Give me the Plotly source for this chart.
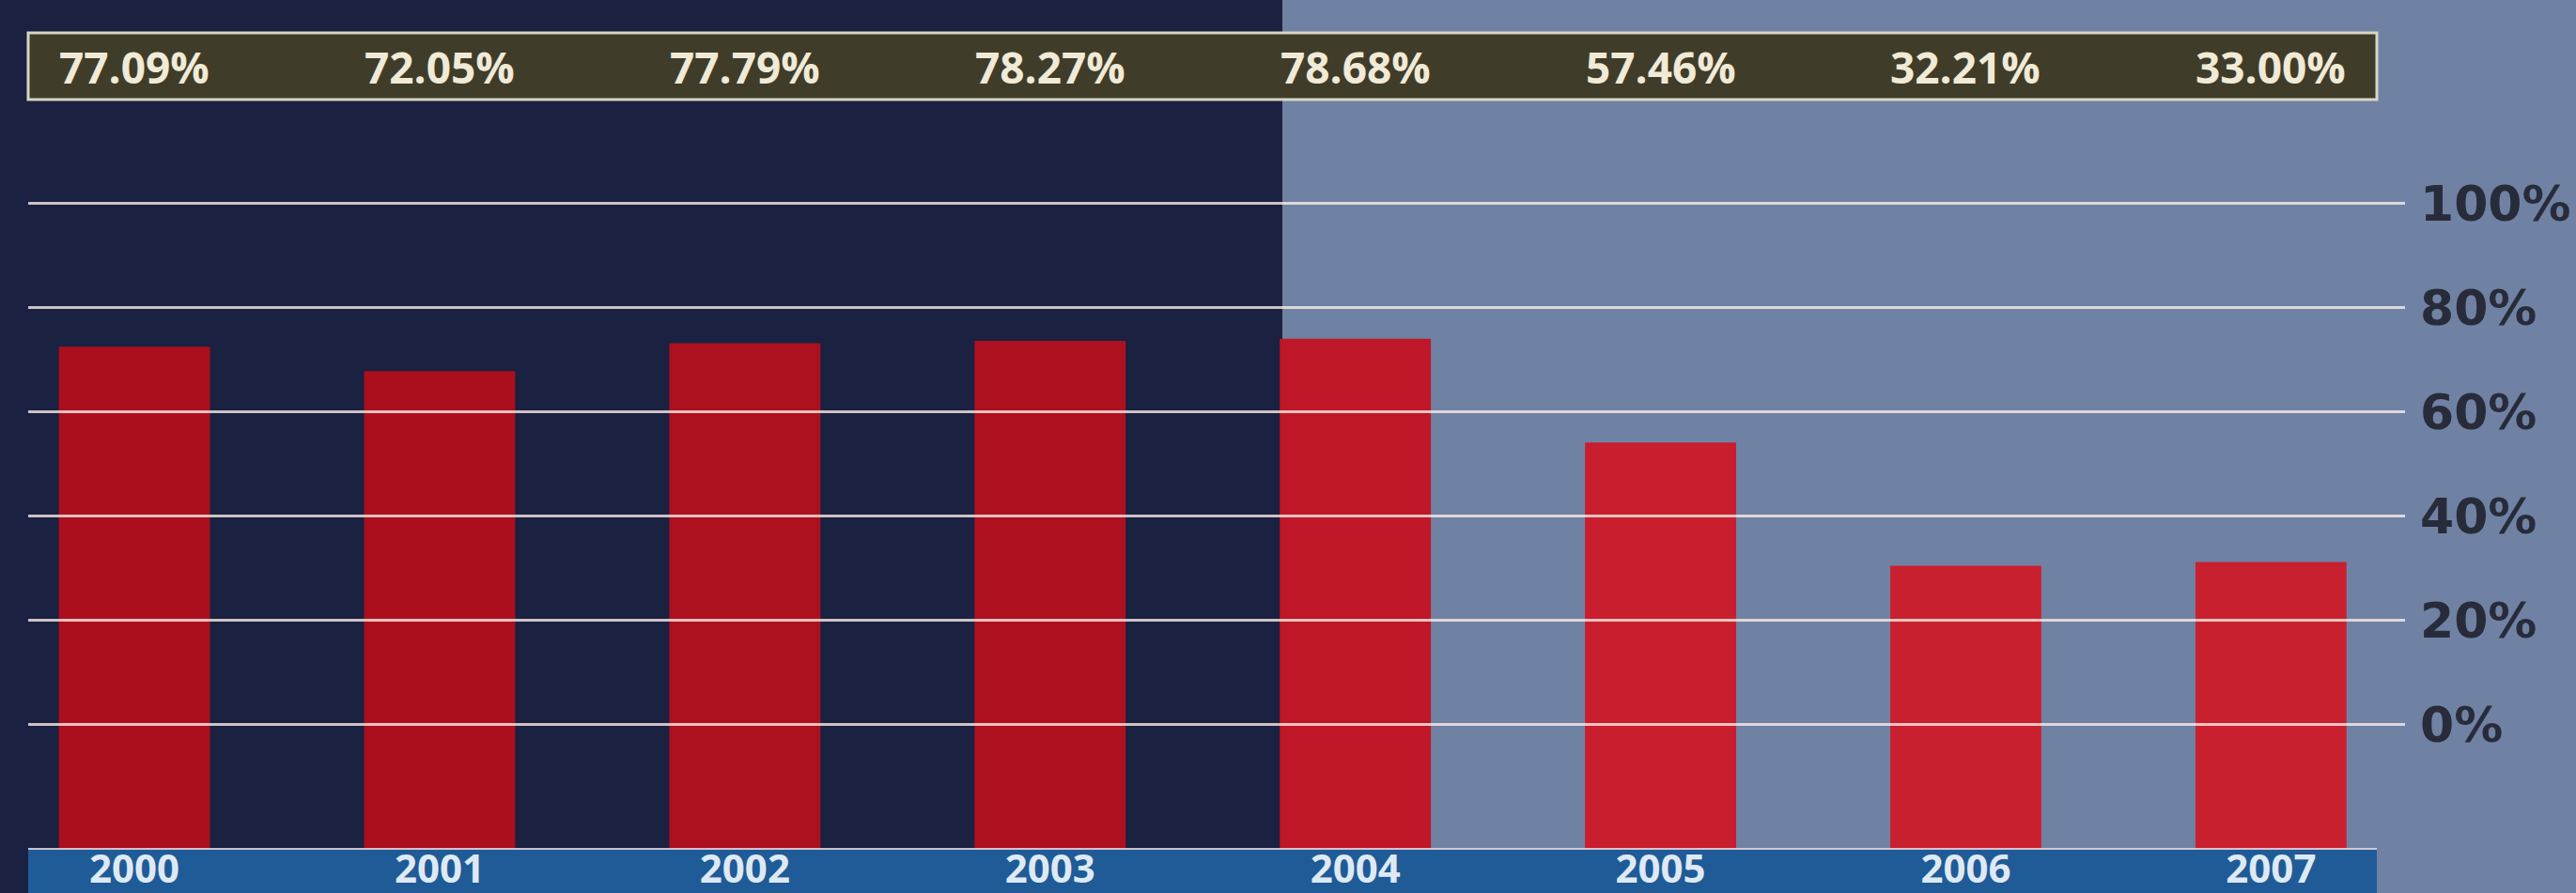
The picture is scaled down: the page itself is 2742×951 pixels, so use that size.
import plotly.graph_objects as go

# ---- data ----
years = ["2000", "2001", "2002", "2003", "2004", "2005", "2006", "2007"]
shares = [77.09, 72.05, 77.79, 78.27, 78.68, 57.46, 32.21, 33.00]
share_labels = ["77.09%", "72.05%", "77.79%", "78.27%", "78.68%", "57.46%", "32.21%", "33.00%"]
grid_ticks = [0, 20, 40, 60, 80, 100]
grid_labels = ["0%", "20%", "40%", "60%", "80%", "100%"]

# ---- style / geometry ----
W, H = 2742, 951
ML, MR, MT, MB = 30, 182, 0, 47
bar_colors = ["#ab0f1e", "#ab0f1e", "#ad101f", "#ae101f", "#bf1727", "#c81e2d", "#c9202f", "#c9202f"]
Y1_RANGE = [-23.87, 139.0]   # gridline axis
Y2_RANGE = [-25.77, 148.08]  # bar axis
BAR_BASE = Y2_RANGE[0]

fig = go.Figure()
fig.add_trace(go.Bar(
    x=years,
    y=[v - BAR_BASE for v in shares],
    base=BAR_BASE,
    yaxis="y2",
    marker=dict(color=bar_colors, line=dict(width=0)),
    hoverinfo="skip",
    showlegend=False,
))

pw = W - ML - MR
ph = H - MT - MB
shapes = []
# left dark background panel (page x 0 .. 1365)
shapes.append(dict(type="rect", xref="paper", yref="paper",
                   x0=-0.05, x1=(1365 - ML) / pw, y0=-0.5, y1=1.1,
                   fillcolor="#1b2140", line=dict(width=0), layer="below"))
# top value band
shapes.append(dict(type="rect", xref="paper", yref="paper",
                   x0=0, x1=(2530 - ML) / pw, y0=1 - 106 / ph, y1=1 - 35 / ph,
                   fillcolor="#403c2a", line=dict(color="#d6d6c4", width=3), layer="below"))
# bottom year band
shapes.append(dict(type="rect", xref="paper", yref="paper",
                   x0=0, x1=(2530 - ML) / pw, y0=-0.5, y1=0,
                   fillcolor="#1f5b97", line=dict(width=0), layer="below"))
shapes.append(dict(type="line", xref="paper", yref="paper",
                   x0=0, x1=(2530 - ML) / pw, y0=0, y1=0,
                   line=dict(color="rgba(235,215,225,0.85)", width=2), layer="above"))
# gridlines drawn over the bars
for t in grid_ticks:
    shapes.append(dict(type="line", xref="paper", yref="y", x0=0, x1=1, y0=t, y1=t,
                       line=dict(color="rgba(250,236,230,0.8)", width=3), layer="above"))

annotations = []
for i, lab in enumerate(share_labels):
    annotations.append(dict(
        x=i, xref="x", y=1 - 71 / ph, yref="paper", yanchor="middle", xanchor="center",
        text=lab, showarrow=False,
        font=dict(family="Open Sans", size=46, color="#f0ead6", weight="bold"),
    ))

fig.update_layout(
    width=W, height=H,
    margin=dict(l=ML, r=MR, t=MT, b=MB, pad=0, autoexpand=False),
    paper_bgcolor="#7082a3",
    plot_bgcolor="rgba(0,0,0,0)",
    bargap=0.505,
    shapes=shapes,
    annotations=annotations,
    showlegend=False,
    xaxis=dict(
        type="category", range=[-0.348, 7.439], automargin=False,
        showgrid=False, zeroline=False, showline=False, ticks="",
        tickfont=dict(family="Open Sans", size=42, color="#dfe9f3", weight="bold"),
        ticklabelstandoff=-7,
        fixedrange=True,
    ),
    yaxis=dict(
        range=Y1_RANGE, side="right", automargin=False,
        tickvals=grid_ticks, ticktext=grid_labels,
        showgrid=False, zeroline=False, showline=False, ticks="",
        tickfont=dict(family="DejaVu Sans", size=52, color="#282c3a", weight="bold"),
        ticklabelstandoff=15,
        fixedrange=True,
    ),
    yaxis2=dict(
        range=Y2_RANGE, overlaying="y", visible=False, fixedrange=True, automargin=False,
    ),
)

fig.write_html("out.html")
